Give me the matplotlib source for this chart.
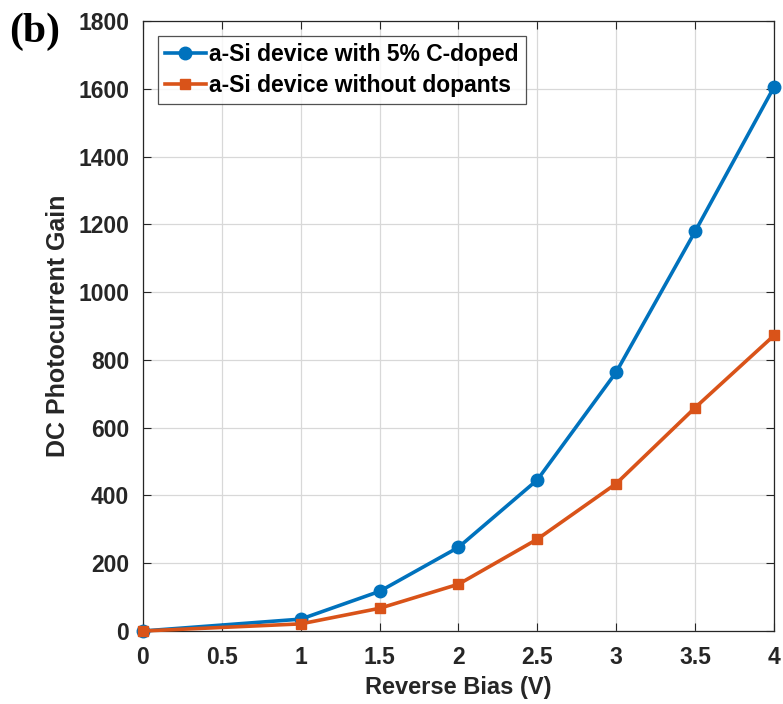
import matplotlib
matplotlib.use("Agg")
import matplotlib.pyplot as plt

# reverse bias (V) and DC photocurrent gain for the two devices
bias = [0, 1, 1.5, 2, 2.5, 3, 3.5, 4]
gain_c_doped = [0, 35, 117, 247, 446, 764, 1179, 1605]
gain_undoped = [0, 21, 67, 138, 271, 435, 659, 872]

label_c_doped = "a-Si device with 5% C-doped"
label_undoped = "a-Si device without dopants"

xticks = [0, 0.5, 1, 1.5, 2, 2.5, 3, 3.5, 4]
xticklabels = ["0", "0.5", "1", "1.5", "2", "2.5", "3", "3.5", "4"]
yticks = list(range(0, 1801, 200))

plt.rcParams["font.family"] = ["Liberation Sans", "DejaVu Sans"]
plt.rcParams["font.weight"] = "bold"

fig = plt.figure(figsize=(7.83, 7.04), dpi=100)
ax = fig.add_axes([0.1826, 0.1037, 0.8059, 0.8665])

ax.plot(bias, gain_c_doped, color="#0072BD", lw=2.6, marker="o", ms=9,
        label=label_c_doped, zorder=3, clip_on=False)
ax.plot(bias, gain_undoped, color="#D95319", lw=2.6, marker="s", ms=7.5,
        label=label_undoped, zorder=3, clip_on=False)

ax.set_xlim(0, 4)
ax.set_ylim(0, 1800)
ax.set_xticks(xticks)
ax.set_xticklabels(xticklabels)
ax.set_yticks(yticks)
ax.grid(True, color="#d8d8d8", lw=0.9)
ax.set_axisbelow(True)
ax.tick_params(direction="in", length=6, width=0.8, labelsize=16.5,
               top=True, right=True, colors="#262626")
ax.tick_params(axis="x", pad=11)
ax.tick_params(axis="y", pad=10)
for lbl in ax.get_xticklabels() + ax.get_yticklabels():
    lbl.set_fontweight("bold")
for sp in ax.spines.values():
    sp.set_color("#262626")
    sp.set_linewidth(0.9)

ax.set_xlabel("Reverse Bias (V)", fontsize=17, fontweight="bold",
              color="#262626", labelpad=5)
ax.set_ylabel("DC Photocurrent Gain", fontsize=18, fontweight="bold",
              color="#262626", labelpad=6)

leg = ax.legend(loc="upper left", fontsize=16.5, frameon=True, fancybox=False,
                edgecolor="#262626", borderpad=0.3, handlelength=1.8,
                handletextpad=0.15, labelspacing=0.35,
                bbox_to_anchor=(0.016, 0.983), borderaxespad=0.2)
leg.get_frame().set_linewidth(0.9)
for t in leg.get_texts():
    t.set_fontweight("bold")

fig.text(0.012, 0.982, "(b)", family=["Liberation Serif", "DejaVu Serif"],
         fontsize=30, fontweight="bold", va="top", ha="left")

fig.savefig("out.png", dpi=100)
